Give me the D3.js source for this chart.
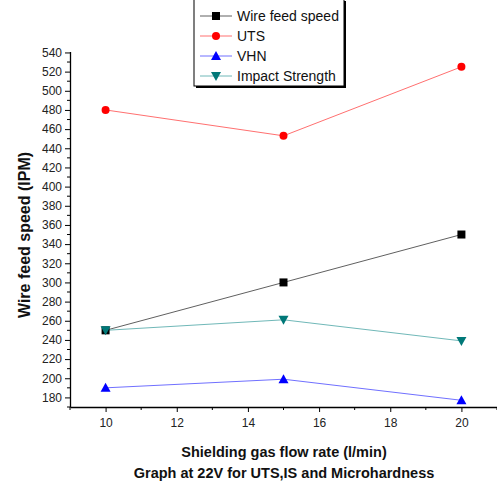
<!DOCTYPE html>
<html><head><meta charset="utf-8">
<script src="https://cdn.jsdelivr.net/npm/d3@7"></script>
<style>body{margin:0;background:#fff}svg{display:block;font-family:"Liberation Sans",Arial,sans-serif}</style>
</head><body><svg id="c" width="497" height="486"></svg>
<script>
const flowRates = [10, 15, 20];
const wireFeed = [250, 300, 350];
const uts = [480, 453, 525];
const vhn = [190, 199, 177];
const impact = [250, 261, 239];
const seriesNames = ["Wire feed speed", "UTS", "VHN", "Impact Strength"];
const xTicks = [10, 12, 14, 16, 18, 20];
const yTicks = [180,200,220,240,260,280,300,320,340,360,380,400,420,440,460,480,500,520,540];

const svg = d3.select("#c");
const x = d3.scaleLinear().domain([9, 21]).range([70, 497]);
const y = d3.scaleLinear().domain([170, 541]).range([407, 51.5]);

const series = [
  {name: seriesNames[0], vals: wireFeed, line: "#606060", fill: "#000", shape: "square"},
  {name: seriesNames[1], vals: uts, line: "#ff7070", fill: "#ff0000", shape: "circle"},
  {name: seriesNames[2], vals: vhn, line: "#7070ff", fill: "#0000ff", shape: "up"},
  {name: seriesNames[3], vals: impact, line: "#70b8b8", fill: "#007878", shape: "down"}
];

// axes
const yAxis = d3.axisLeft(y).tickValues(yTicks).tickSize(5).tickSizeOuter(0).tickPadding(3);
const gy = svg.append("g").attr("transform", "translate(70,0)").call(yAxis);
const yMinor = d3.range(170, 541, 10).filter(v => v % 20 !== 0);
gy.selectAll(".minor").data(yMinor).enter().append("line")
  .attr("x1", -3).attr("x2", 0).attr("y1", d => y(d)).attr("y2", d => y(d)).attr("stroke", "#000");

const xAxis = d3.axisBottom(x).tickValues(xTicks).tickSize(5).tickSizeOuter(0).tickPadding(6);
const gx = svg.append("g").attr("transform", "translate(0,407)").call(xAxis);
const xMinor = [9, 11, 13, 15, 17, 19, 21];
gx.selectAll(".minor").data(xMinor).enter().append("line")
  .attr("y1", 0).attr("y2", 3).attr("x1", d => x(d)).attr("x2", d => x(d)).attr("stroke", "#000");

[gx, gy].forEach(g => {
  g.selectAll("path.domain").attr("stroke", "#000").attr("stroke-width", 1.3);
  g.selectAll("text").attr("font-size", 12).attr("fill", "#222").attr("font-family", "Liberation Sans, Arial, sans-serif");
});

function marker(g, shape, cx, cy, fill) {
  if (shape === "square") g.append("rect").attr("x", cx - 4).attr("y", cy - 4).attr("width", 8).attr("height", 8).attr("fill", fill);
  else if (shape === "circle") g.append("circle").attr("cx", cx).attr("cy", cy).attr("r", 4).attr("fill", fill);
  else if (shape === "up") g.append("path").attr("d", `M${cx},${cy-5}L${cx+5},${cy+4}L${cx-5},${cy+4}Z`).attr("fill", fill);
  else g.append("path").attr("d", `M${cx},${cy+5}L${cx+5},${cy-4}L${cx-5},${cy-4}Z`).attr("fill", fill);
}

const line = d3.line().x((d, i) => x(flowRates[i])).y(d => y(d));
series.forEach(s => {
  svg.append("path").attr("d", line(s.vals)).attr("fill", "none").attr("stroke", s.line).attr("stroke-width", 1);
});
series.forEach(s => {
  const g = svg.append("g");
  s.vals.forEach((v, i) => marker(g, s.shape, x(flowRates[i]), y(v), s.fill));
});

// legend
const lg = svg.append("g");
lg.append("rect").attr("x", 196).attr("y", 1).attr("width", 150).attr("height", 87).attr("fill", "#000");
lg.append("rect").attr("x", 194).attr("y", -1).attr("width", 150).attr("height", 87).attr("fill", "#fff").attr("stroke", "#000").attr("stroke-width", 1);
series.forEach((s, i) => {
  const cy = 16 + i * 20;
  lg.append("line").attr("x1", 200).attr("x2", 232).attr("y1", cy).attr("y2", cy).attr("stroke", s.line);
  marker(lg, s.shape, 216, cy, s.fill);
  lg.append("text").attr("x", 237).attr("y", cy + 5).attr("font-size", 14).attr("fill", "#111").text(s.name);
});

// titles
svg.append("text").attr("transform", "translate(30,235) rotate(-90)").attr("text-anchor", "middle")
  .attr("font-size", 16).attr("font-weight", "bold").attr("fill", "#111").text("Wire feed speed (IPM)");
svg.append("text").attr("x", 284).attr("y", 457).attr("text-anchor", "middle")
  .attr("font-size", 14.5).attr("font-weight", "bold").attr("fill", "#111").text("Shielding gas flow rate (l/min)");
svg.append("text").attr("x", 284).attr("y", 478).attr("text-anchor", "middle")
  .attr("font-size", 14.5).attr("font-weight", "bold").attr("fill", "#111").text("Graph at 22V for UTS,IS and Microhardness");
</script></body></html>
